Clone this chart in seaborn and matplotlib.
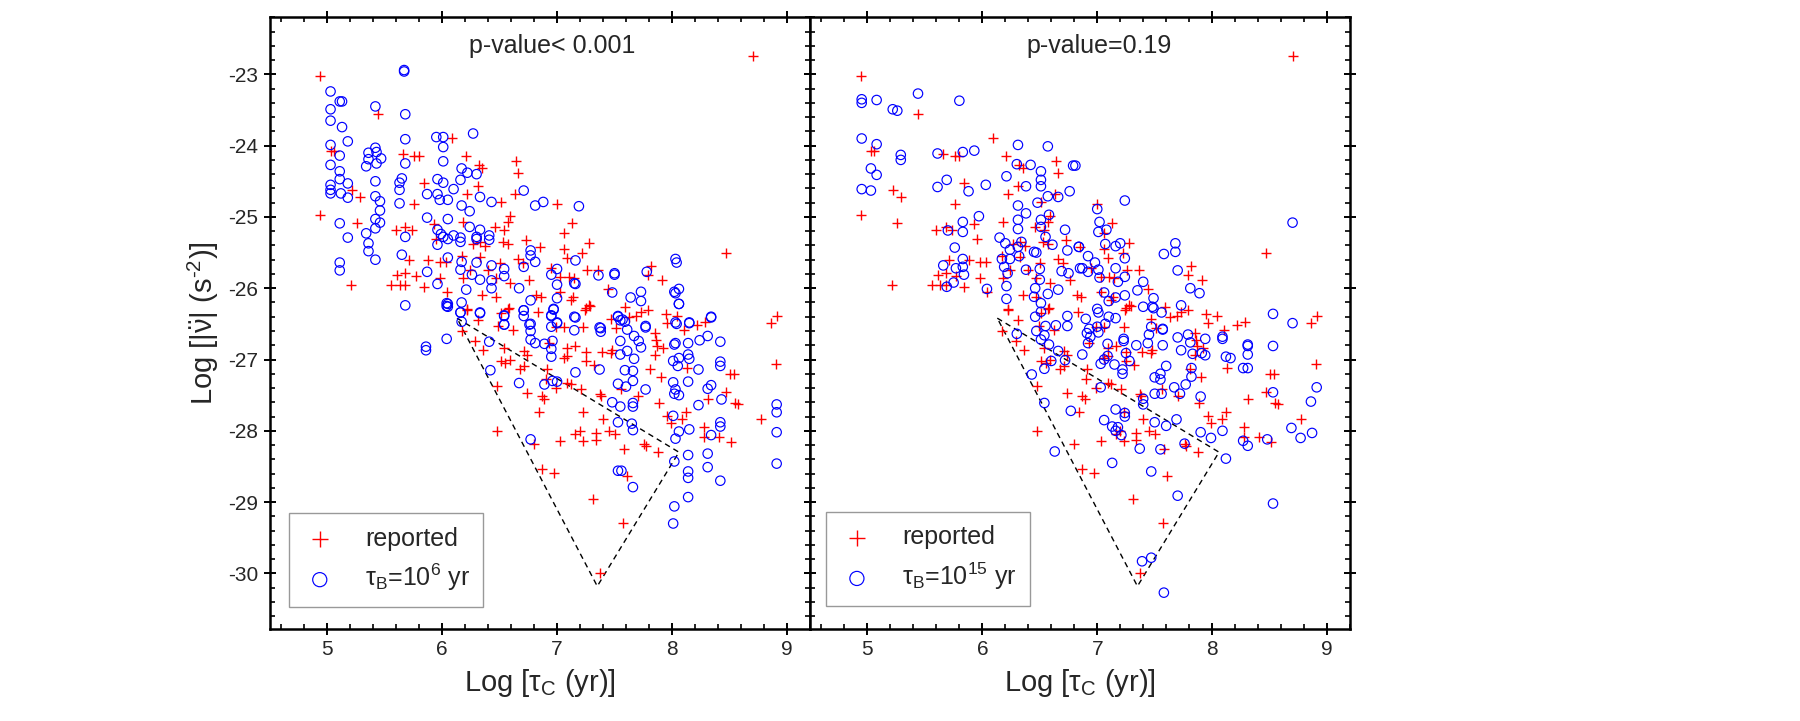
import matplotlib
matplotlib.use("Agg")
import matplotlib.pyplot as plt
from matplotlib.ticker import MultipleLocator
import seaborn as sns

# reported pulsars (same in both panels): Log tau_c, Log |nu_ddot|
rep_x = [4.94, 5.44, 5.03, 5.06, 5.66, 5.76, 5.80, 6.09, 6.21, 6.32, 6.35, 6.64, 6.66, 5.22, 5.29,
         4.94, 5.26, 5.76, 5.84, 6.22, 6.31, 6.63, 6.51, 6.59, 6.57, 6.46, 6.54, 5.60, 5.68, 5.74,
         5.93, 6.18, 5.95, 6.27, 6.33, 6.37, 6.53, 6.57, 6.73, 6.85, 5.71, 5.88, 5.98, 6.03, 6.17,
         6.33, 6.40, 6.50, 6.66, 6.70, 5.61, 5.68, 5.77, 5.98, 6.18, 6.24, 6.47, 6.59, 5.21, 5.56,
         5.63, 5.68, 5.84, 6.04, 6.35, 6.47, 6.22, 6.57, 6.82, 6.31, 6.49, 6.83, 6.76,
         8.70, 7.00, 7.13, 7.06, 7.28, 7.06, 7.22, 7.09, 8.47, 7.26, 7.36, 7.82, 7.79, 7.91, 6.95,
         7.03, 7.10, 7.15, 6.86, 7.03, 7.14, 7.12, 7.44, 7.25, 7.29, 7.59, 7.73, 7.79, 7.63, 7.69,
         7.95, 8.04, 7.96, 8.22, 8.29, 8.91, 8.86, 7.47, 7.23, 6.99, 7.06,
         6.22, 6.51, 6.58, 7.28, 7.24, 6.17, 6.62, 7.51, 7.85, 6.29, 6.36, 6.54, 6.71, 6.74, 6.93,
         7.09, 7.16, 7.25, 7.39, 7.47, 7.48, 7.87, 7.85, 6.51, 6.59, 6.55, 6.68, 6.71, 6.91, 7.06,
         7.09, 7.25, 7.32, 7.81, 6.48, 6.74, 6.90, 6.99, 6.87, 6.89, 7.09, 7.12, 7.21, 7.37, 7.38,
         7.56, 7.70, 6.84, 7.23, 6.48, 7.40, 7.45, 7.50, 7.16, 7.20, 7.23, 7.03, 7.34, 7.34, 6.80,
         7.58, 7.76, 7.88, 6.87, 6.97, 7.61, 7.31, 7.57, 7.37,
         8.10, 7.86, 7.92, 7.90, 8.13, 8.90, 8.50, 8.54, 8.47, 8.31, 8.55, 8.57, 7.89, 8.12, 8.09,
         7.96, 7.99, 8.77, 8.28, 8.28, 8.41, 8.51, 7.77]
rep_y = [-23.02, -23.56, -24.07, -24.07, -24.12, -24.15, -24.15, -23.90, -24.15, -24.27, -24.31, -24.22, -24.39, -24.62, -24.72,
         -24.97, -25.08, -24.82, -24.52, -24.68, -24.57, -24.68, -24.79, -24.99, -25.07, -25.14, -25.18, -25.19, -25.14, -25.19,
         -25.10, -25.07, -25.31, -25.38, -25.35, -25.41, -25.35, -25.38, -25.32, -25.42, -25.60, -25.60, -25.63, -25.63, -25.55,
         -25.56, -25.74, -25.64, -25.59, -25.64, -25.81, -25.78, -25.83, -25.85, -25.85, -25.74, -25.85, -25.93, -25.95, -25.96,
         -25.96, -25.96, -25.98, -26.06, -26.09, -26.12, -26.29, -26.29, -26.09, -26.44, -26.53, -26.33, -25.89,
         -22.74, -24.82, -25.08, -25.22, -25.36, -25.45, -25.50, -25.57, -25.50, -25.74, -25.74, -25.69, -25.81, -25.89, -25.71,
         -25.84, -25.84, -25.86, -26.12, -26.06, -26.12, -26.16, -26.01, -26.28, -26.25, -26.26, -26.33, -26.31, -26.40, -26.39,
         -26.36, -26.39, -26.49, -26.51, -26.48, -26.39, -26.49, -26.43, -26.54, -26.54, -26.54,
         -26.30, -26.35, -26.28, -26.23, -26.30, -26.60, -26.58, -26.56, -26.63, -26.74, -26.86, -26.84, -26.88, -26.93, -26.77,
         -26.84, -26.81, -26.89, -26.90, -26.91, -26.86, -26.81, -26.93, -27.02, -27.00, -27.05, -27.14, -27.09, -27.14, -26.98,
         -26.95, -27.02, -27.07, -27.14, -27.37, -27.47, -27.28, -27.40, -27.51, -27.56, -27.33, -27.35, -27.41, -27.49, -27.51,
         -27.42, -27.51, -27.74, -27.74, -28.00, -27.84, -28.00, -28.04, -28.04, -28.00, -28.15, -28.15, -28.03, -28.13, -28.18,
         -28.25, -28.18, -28.30, -28.54, -28.59, -28.64, -28.95, -29.29, -30.00,
         -26.58, -26.72, -26.84, -27.24, -27.12, -27.06, -27.21, -27.21, -27.45, -27.55, -27.61, -27.63, -27.61, -27.74, -27.83,
         -27.79, -27.89, -27.83, -27.94, -28.08, -28.08, -28.16, -28.22]

# simulated, tau_B = 1e6 yr
sim6_x = [5.67, 5.67, 5.03, 5.11, 5.13, 5.03, 5.03, 5.13, 5.42, 5.68, 5.18, 5.03, 5.11, 5.03, 5.11,
          5.11, 5.18, 5.03, 5.03, 5.03, 5.12, 5.18, 5.36, 5.42, 5.43, 5.36, 5.47, 5.43, 5.34, 5.42,
          5.42, 5.46, 5.46, 5.42, 5.46, 5.42, 5.34, 5.36, 5.36, 5.42, 5.11, 5.18, 5.11, 5.11, 5.68,
          5.68, 5.65, 5.63, 5.63, 5.63, 5.68, 5.65, 5.68, 5.95, 6.01, 6.01, 6.01, 6.27, 6.17, 6.22,
          6.30, 6.16, 5.96, 6.01, 6.10, 5.87, 5.96, 5.98, 6.05, 6.33, 6.43, 6.17, 6.24, 6.71, 6.81,
          6.88, 5.87, 6.05, 6.24, 5.96, 5.99, 6.01, 6.05, 6.10, 6.16, 6.16, 5.96, 6.30, 6.33, 6.30,
          6.41, 6.41, 6.05, 6.17, 6.30, 6.43, 6.54, 6.54, 6.16, 6.26, 6.33, 6.43, 6.43, 6.71, 6.77,
          6.77, 6.81, 5.87, 5.96, 6.21, 6.67, 6.05, 6.05, 6.17, 6.16, 6.33, 6.54, 6.54, 6.71, 6.71,
          6.77, 6.77,
          7.19, 7.16, 7.00, 6.95, 7.00, 7.00, 7.15, 7.16, 7.36, 7.50, 7.50, 7.48, 7.64, 7.73, 7.73,
          7.78, 8.03, 8.04, 8.02, 8.03, 8.06, 8.06, 6.97, 6.95, 7.16, 7.53, 7.55, 7.59, 7.37, 7.77,
          8.04, 8.15, 8.34, 7.00,
          6.04, 6.04, 6.16, 5.86, 5.86, 6.04, 6.33, 6.17, 6.41, 6.54, 6.54, 6.71, 6.76, 6.77, 6.77,
          6.81, 6.89, 6.95, 7.00, 6.95, 6.96, 6.95, 6.95, 6.97, 7.15, 7.15, 6.42, 6.67, 6.89, 6.96,
          7.00, 7.16, 7.37, 7.38, 7.38, 7.53, 7.57, 7.61, 7.55, 7.55, 7.61, 7.67, 7.71, 7.73, 7.67,
          7.59, 7.66, 7.66, 7.53, 7.60, 7.77, 7.48, 7.55, 7.66, 7.66, 7.53, 7.65, 7.66, 6.77, 7.53,
          7.56, 7.66,
          8.06, 8.34, 7.77, 8.03, 8.15, 8.02, 8.03, 8.14, 8.24, 8.31, 8.42, 8.06, 8.14, 8.15, 8.01,
          8.05, 8.23, 8.42, 8.42, 8.01, 8.03, 8.02, 8.06, 8.14, 8.31, 8.34, 8.43, 8.23, 8.01, 8.91,
          8.91, 8.42, 8.42, 8.15, 8.06, 8.03, 8.34, 8.91, 8.14, 8.31, 8.02, 8.31, 8.14, 8.14, 8.91,
          8.42, 8.14, 8.02, 8.01]
sim6_y = [-22.94, -22.96, -23.24, -23.38, -23.38, -23.49, -23.65, -23.74, -23.45, -23.56, -23.94, -23.99, -24.14, -24.27, -24.36,
          -24.47, -24.53, -24.55, -24.62, -24.67, -24.67, -24.73, -24.10, -24.03, -24.09, -24.19, -24.18, -24.25, -24.29, -24.50,
          -24.71, -24.78, -24.91, -25.03, -25.08, -25.16, -25.23, -25.37, -25.48, -25.60, -25.09, -25.29, -25.64, -25.75, -23.91,
          -24.25, -24.46, -24.52, -24.62, -24.81, -25.28, -25.53, -26.24, -23.88, -23.88, -24.02, -24.22, -23.83, -24.32, -24.38,
          -24.40, -24.48, -24.47, -24.52, -24.61, -24.68, -24.68, -24.76, -24.76, -24.72, -24.79, -24.84, -24.92, -24.63, -24.84,
          -24.79, -25.01, -25.03, -25.14, -25.18, -25.24, -25.28, -25.31, -25.26, -25.29, -25.35, -25.39, -25.28, -25.18, -25.31,
          -25.26, -25.32, -25.57, -25.63, -25.64, -25.68, -25.73, -25.83, -25.74, -25.81, -25.88, -25.89, -26.00, -25.70, -25.47,
          -25.54, -25.63, -25.77, -25.94, -26.02, -26.00, -26.22, -26.26, -26.20, -26.34, -26.35, -26.39, -26.51, -26.31, -26.39,
          -26.17, -26.50,
          -24.85, -25.61, -25.73, -25.81, -25.95, -26.14, -25.93, -25.94, -25.82, -25.79, -25.81, -26.06, -26.13, -26.05, -26.18,
          -25.77, -25.59, -25.64, -26.05, -26.07, -26.01, -26.22, -26.30, -26.39, -26.41, -26.40, -26.45, -26.47, -26.55, -26.55,
          -26.50, -26.49, -26.41, -26.49,
          -26.21, -26.25, -26.34, -26.82, -26.87, -26.71, -26.34, -26.47, -26.75, -26.38, -26.51, -26.31, -26.51, -26.60, -26.72,
          -26.77, -26.78, -26.38, -26.48, -26.54, -26.74, -26.85, -26.96, -26.29, -26.40, -26.59, -27.15, -27.33, -27.35, -27.30,
          -27.31, -27.18, -27.14, -26.56, -26.61, -26.39, -26.44, -26.58, -26.74, -26.93, -26.88, -26.67, -26.74, -26.83, -26.99,
          -27.15, -27.16, -27.30, -27.34, -27.38, -27.42, -27.60, -27.66, -27.66, -27.61, -27.88, -27.90, -27.99, -28.12, -28.56,
          -28.56, -28.79,
          -26.22, -26.40, -26.53, -26.48, -26.48, -26.79, -26.77, -26.77, -26.73, -26.67, -26.75, -26.98, -26.93, -26.99, -27.02,
          -27.09, -27.14, -27.03, -27.09, -27.32, -27.42, -27.48, -27.50, -27.31, -27.41, -27.36, -27.56, -27.64, -27.79, -27.63,
          -27.74, -27.88, -27.94, -27.98, -28.01, -28.11, -28.06, -28.02, -28.34, -28.32, -28.43, -28.51, -28.57, -28.66, -28.46,
          -28.70, -28.93, -29.06, -29.30]

# simulated, tau_B = 1e15 yr
sim15_x = [4.95, 4.95, 5.08, 5.22, 5.26, 5.44, 5.80, 4.95, 5.08, 5.29, 5.29, 5.03, 5.08, 4.95, 5.03,
           5.61, 5.83, 5.93, 6.31, 6.57, 5.61, 5.69, 6.03, 5.88, 5.97, 5.83, 6.30, 6.42, 6.51, 6.21,
           6.38, 6.51, 6.51, 6.57, 6.66, 6.48, 6.76, 6.79, 6.31, 6.38, 6.31, 6.31, 6.51, 6.51, 6.58,
           5.70, 5.83, 5.76, 5.83, 5.83, 5.66, 5.77, 5.75, 5.69, 5.84, 6.15, 6.20, 6.24, 6.31, 6.34,
           6.17, 6.24, 6.19, 6.22, 6.32, 6.45, 6.47, 6.55, 6.61, 6.72, 6.74, 6.84, 6.38, 6.50, 6.69,
           6.75, 6.85, 6.04, 6.21, 6.21, 6.50, 6.46, 6.57, 6.45, 6.51, 6.66, 6.46, 6.51, 6.74, 6.55,
           6.64, 6.74,
           6.81, 7.24, 7.00, 7.02, 7.01, 7.08, 7.07, 7.16, 7.20, 6.84, 6.92, 7.24, 6.87, 6.92, 6.98,
           7.01, 7.02, 7.16, 7.24, 7.18, 7.58, 7.68, 7.68, 7.70, 7.40, 7.35, 7.81, 7.89, 7.24, 7.16,
           7.06, 7.10, 7.00, 7.01, 6.90, 7.10, 7.16, 7.07, 7.49, 7.48, 7.40, 7.56, 7.49, 7.73, 7.47,
           7.57, 8.53, 8.70, 8.70, 7.00, 6.93,
           6.30, 6.47, 6.54, 6.51, 6.58, 6.60, 6.54, 6.43, 6.54, 6.66, 6.72, 6.77, 6.63, 6.87, 6.92,
           6.94, 6.91, 7.01, 7.03, 7.06, 7.09, 7.03, 7.09, 7.15, 7.22, 7.22, 7.23, 7.23, 7.25, 7.28,
           7.34, 7.44, 7.45, 7.57, 7.57, 7.60, 7.55, 7.55, 7.50, 7.50, 7.56, 7.40, 7.40, 7.16, 7.24,
           7.24, 7.06, 7.13, 7.18, 7.16, 7.21, 7.50, 7.60, 7.69, 7.37, 7.55, 7.13, 7.47, 7.70, 7.39,
           7.47, 7.58, 7.70, 7.73, 7.79, 7.81, 7.83, 7.82, 7.67, 7.72, 7.77, 7.82, 7.90, 7.91, 7.94,
           7.94, 7.76, 7.90, 7.99, 8.09, 8.09, 8.09, 8.12, 8.16, 8.12, 8.27, 8.31, 8.31, 8.31, 8.31,
           8.27, 8.31, 8.48, 8.53, 8.53, 8.53, 8.69, 8.77, 8.86, 8.87, 8.91]
sim15_y = [-23.35, -23.40, -23.36, -23.49, -23.51, -23.27, -23.37, -23.90, -23.98, -24.13, -24.20, -24.32, -24.41, -24.61, -24.63,
           -24.11, -24.09, -24.07, -23.99, -24.01, -24.58, -24.48, -24.55, -24.64, -24.99, -25.07, -24.26, -24.27, -24.36, -24.43,
           -24.57, -24.48, -24.57, -24.71, -24.72, -24.80, -24.64, -24.28, -24.84, -24.95, -25.04, -25.17, -25.04, -25.14, -24.97,
           -25.19, -25.21, -25.43, -25.59, -25.70, -25.68, -25.72, -25.92, -25.98, -25.81, -25.29, -25.37, -25.46, -25.42, -25.35,
           -25.59, -25.59, -25.70, -25.79, -25.55, -25.49, -25.50, -25.28, -25.39, -25.18, -25.47, -25.42, -25.74, -25.73, -25.76,
           -25.79, -25.72, -26.01, -25.97, -26.15, -25.88, -26.00, -26.08, -26.12, -26.21, -26.02, -26.40, -26.33, -26.39, -26.53,
           -26.52, -26.53,
           -24.28, -24.77, -24.89, -25.07, -25.21, -25.18, -25.38, -25.41, -25.37, -25.42, -25.55, -25.58, -25.72, -25.77, -25.64,
           -25.74, -25.85, -25.72, -25.84, -25.91, -25.52, -25.37, -25.49, -25.75, -25.91, -26.03, -26.00, -26.07, -26.10, -26.13,
           -26.06, -26.18, -26.29, -26.34, -26.43, -26.40, -26.42, -26.50, -26.14, -26.26, -26.26, -26.34, -26.28, -26.24, -26.54,
           -26.57, -26.36, -25.08, -26.49, -26.54, -26.57,
           -26.64, -26.60, -26.66, -26.72, -26.79, -27.02, -27.13, -27.21, -27.61, -26.88, -27.01, -27.72, -28.29, -26.93, -26.77,
           -26.68, -26.63, -26.62, -27.06, -27.00, -26.95, -27.39, -26.78, -27.07, -27.14, -27.20, -26.74, -26.71, -26.91, -27.02,
           -26.80, -26.77, -26.65, -26.58, -26.80, -27.09, -27.20, -27.28, -27.25, -27.48, -27.48, -27.55, -27.63, -27.70, -27.75,
           -27.80, -27.85, -27.94, -27.95, -28.00, -28.06, -27.88, -27.93, -27.84, -28.25, -28.26, -28.45, -28.57, -28.91, -29.83,
           -29.78, -30.27, -26.69, -26.87, -26.65, -26.76, -26.92, -27.12, -27.39, -27.48, -27.35, -27.24, -27.52, -26.91, -26.94,
           -26.71, -28.18, -28.02, -28.10, -28.00, -26.68, -26.71, -26.96, -26.98, -28.39, -27.12, -27.12, -26.79, -26.81, -26.93,
           -28.14, -28.21, -28.12, -26.81, -27.46, -29.02, -27.96, -28.10, -27.59, -28.03, -27.39]

# dashed triangle (closed)
tri_x = [6.13, 8.06, 7.35, 6.13]
tri_y = [-26.42, -28.30, -30.18, -26.42]

panels = [
    (sim6_x, sim6_y, r"τ$_\mathrm{B}$=10$^{6}$ yr", "p-value< 0.001", 0.523, (0.035, 0.036)),
    (sim15_x, sim15_y, r"τ$_\mathrm{B}$=10$^{15}$ yr", "p-value=0.19", 0.535, (0.029, 0.038)),
]

sns.set_style("ticks")
plt.rcParams["font.family"] = ["Liberation Sans", "DejaVu Sans"]
plt.rcParams["mathtext.fontset"] = "custom"
plt.rcParams["mathtext.rm"] = "Liberation Sans"
plt.rcParams["mathtext.it"] = "Liberation Sans:italic"
plt.rcParams["mathtext.bf"] = "Liberation Sans:bold"
plt.rcParams["axes.unicode_minus"] = False

fig = plt.figure(figsize=(18, 7.21), dpi=100)
W, H = 1800.0, 721.0
ax1 = fig.add_axes([269.6 / W, 1 - 629 / H, 540.4 / W, 611.7 / H])
ax2 = fig.add_axes([810 / W, 1 - 629 / H, 540 / W, 611.7 / H])

for i, (ax, (sx, sy, lab, ptxt, tx, lpos)) in enumerate(zip([ax1, ax2], panels)):
    sns.scatterplot(x=rep_x, y=rep_y, marker="+", color="#ff0000", s=62,
                    linewidth=1.0, ax=ax, label="reported", zorder=3)
    sns.scatterplot(x=sx, y=sy, marker="o", s=46, facecolor="none",
                    edgecolor="#0000ff", linewidth=0.85, ax=ax, label=lab, zorder=3)
    sns.lineplot(x=tri_x, y=tri_y, sort=False, estimator=None, color="black",
                 linewidth=1.0, ax=ax, zorder=2)
    ax.lines[-1].set_linestyle((0, (4, 3)))

    ax.set_xlim(4.5, 9.2)
    ax.set_ylim(-30.78, -22.2)
    ax.xaxis.set_major_locator(MultipleLocator(1))
    ax.xaxis.set_minor_locator(MultipleLocator(0.2))
    ax.yaxis.set_major_locator(MultipleLocator(1))
    ax.yaxis.set_minor_locator(MultipleLocator(0.2))
    ax.tick_params(which="major", direction="inout", length=8, width=1.4,
                   top=True, right=True, labelsize=15, pad=4, color="black")
    ax.tick_params(which="minor", direction="in", length=3.5, width=1.2,
                   top=True, right=True, color="black")
    for sp in ax.spines.values():
        sp.set_linewidth(1.8)
        sp.set_color("black")
        sp.set_visible(True)

    ax.set_xlabel(r"Log [τ$_\mathrm{C}$ (yr)]", fontsize=21, labelpad=6)
    if i == 0:
        ax.set_ylabel(r"Log [|$\mathrm{\ddot{\nu}}$| (s$^{\text{-2}}$)]", fontsize=21, labelpad=5)
    else:
        ax.set_ylabel("")
        ax.tick_params(labelleft=False)

    ax.text(tx, 0.953, ptxt, transform=ax.transAxes, ha="center", va="center", fontsize=18)

    leg = ax.legend(loc="lower left", bbox_to_anchor=lpos, borderaxespad=0,
                    frameon=True, fancybox=False, fontsize=18, markerscale=1.5,
                    handlelength=1.4, handletextpad=1.1, borderpad=0.55,
                    labelspacing=0.45)
    leg.get_frame().set_edgecolor("#808080")
    leg.get_frame().set_linewidth(1.0)

fig.savefig("out.png", dpi=100)
